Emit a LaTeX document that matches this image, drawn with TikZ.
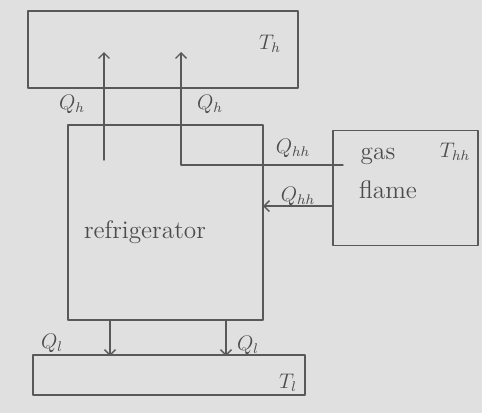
\documentclass[tikz,border=0pt]{standalone}
\usetikzlibrary{arrows.meta,positioning}
\begin{document}
\begin{tikzpicture}[x=0.02cm,y=-0.02cm,>=Straight Barb,line cap=round,line join=round,
  box/.style={draw=black!65,line width=0.8pt,inner sep=0pt},
  flow/.style={draw=black!65,line width=0.8pt,->},
  lbl/.style={text=black!70,font=\large}]
% paper
\fill[black!12] (0,0) rectangle (482,413);
\useasboundingbox (0,0) rectangle (482,413);
% reservoirs and devices
\node[box,minimum width=5.4cm,minimum height=1.54cm] (hot) at (163,49.5) {};
\node[box,minimum width=3.9cm,minimum height=3.9cm] (fridge) at (165.5,222.5) {};
\node[box,minimum width=2.9cm,minimum height=2.3cm] (flame) at (405.5,188) {};
\node[box,minimum width=5.44cm,minimum height=0.8cm] (cold) at (169,375) {};
% texts
\node[lbl] (th) at (270,44) {$T_h$};
\node[lbl] (thh) at (455,152) {$T_{hh}$};
\node[lbl] (tl) at (288,383) {$T_l$};
\node[lbl,font=\Large] (ref) at (145,232) {refrigerator};
\node[lbl,font=\Large] (gas) at (378,156) {gas};
\node[lbl,font=\Large] (fl) at (388,190) {flame};
\node[lbl] (qh1) at (72,104) {$Q_h$};
\node[lbl] (qh2) at (210,104) {$Q_h$};
\node[lbl] (qhh1) at (293,148) {$Q_{hh}$};
\node[lbl] (qhh2) at (298,196) {$Q_{hh}$};
\node[lbl] (ql1) at (52,343) {$Q_l$};
\node[lbl] (ql2) at (248,345) {$Q_l$};
% arrow ends
\coordinate (a1) at (104,160);
\coordinate (b1) at (104,52);
\coordinate (a2) at (343,165);
\coordinate (k2) at (181,165);
\coordinate (b2) at (181,52);
\coordinate (a3) at (333,206);
\coordinate (b3) at (263,206);
\coordinate (a4) at (110,320);
\coordinate (b4) at (110,356);
\coordinate (a5) at (226,320);
\coordinate (b5) at (226,356);
% heat flows
\draw[flow] (a1) -- (b1);
\draw[flow] (a2) -- (k2) -- (b2);
\draw[flow] (a3) -- (b3);
\draw[flow] (a4) -- (b4);
\draw[flow] (a5) -- (b5);
\end{tikzpicture}
\end{document}
